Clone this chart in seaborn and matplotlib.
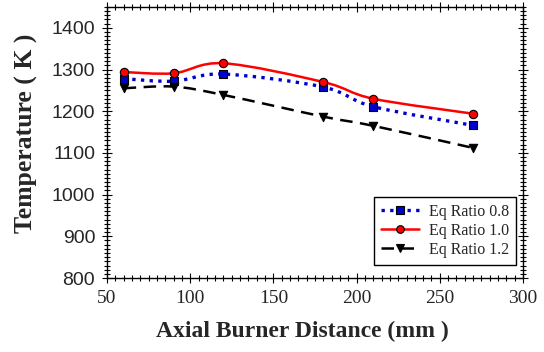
import numpy as np
import pandas as pd
import seaborn as sns
import matplotlib
matplotlib.use("Agg")
import matplotlib.pyplot as plt
from matplotlib.path import Path
from matplotlib.patches import PathPatch
from matplotlib.lines import Line2D
from matplotlib.ticker import MultipleLocator

# Axial positions (mm) and measured temperatures (K)
distance = [60, 90, 120, 180, 210, 270]
temp_eq08 = [1278, 1272, 1289, 1258, 1211, 1166]
temp_eq10 = [1294, 1291, 1315, 1270, 1230, 1194]
temp_eq12 = [1255, 1259, 1239, 1187, 1165, 1112]
series_labels = ["Eq Ratio 0.8", "Eq Ratio 1.0", "Eq Ratio 1.2"]

df = pd.DataFrame({
    "distance": distance * 3,
    "temp": temp_eq08 + temp_eq10 + temp_eq12,
    "series": [series_labels[0]] * 6 + [series_labels[1]] * 6 + [series_labels[2]] * 6,
})

sns.set_style("white")
plt.rcParams["font.family"] = ["Liberation Serif"]

styles = {
    series_labels[0]: dict(color="#0000CC", ls=(0, (1, 1.6)), lw=2.4, marker="s", mfc="#0000CC", ms=6),
    series_labels[1]: dict(color="#FF0000", ls="-", lw=1.8, marker="o", mfc="#FF0000", ms=6),
    series_labels[2]: dict(color="black", ls=(0, (5, 3)), lw=1.8, marker="v", mfc="black", ms=6),
}

fig = plt.figure(figsize=(5.44, 3.52), dpi=100)
ax = fig.add_axes([0.1967, 0.2102, 0.7647, 0.770])


def smooth_path(xs, ys):
    # Catmull-Rom style Bezier segments through the data points
    xs = np.asarray(xs, float)
    ys = np.asarray(ys, float)
    n = len(xs)
    verts = [(xs[0], ys[0])]
    codes = [Path.MOVETO]
    t = 1.0 / 6.0
    for i in range(n - 1):
        i0 = max(i - 1, 0)
        i3 = min(i + 2, n - 1)
        c1 = (xs[i] + (xs[i + 1] - xs[i0]) * t, ys[i] + (ys[i + 1] - ys[i0]) * t)
        c2 = (xs[i + 1] - (xs[i3] - xs[i]) * t, ys[i + 1] - (ys[i3] - ys[i]) * t)
        verts += [c1, c2, (xs[i + 1], ys[i + 1])]
        codes += [Path.CURVE4] * 3
    return Path(verts, codes)


handles = []
for name in series_labels:
    st = styles[name]
    sub = df[df["series"] == name]
    patch = PathPatch(smooth_path(sub["distance"], sub["temp"]), fill=False,
                      edgecolor=st["color"], linestyle=st["ls"], lw=st["lw"], zorder=2)
    ax.add_patch(patch)
    sns.scatterplot(data=sub, x="distance", y="temp", ax=ax, marker=st["marker"],
                    color=st["mfc"], edgecolor="black", linewidth=0.8, s=st["ms"] ** 2,
                    zorder=3, legend=False)
    handles.append(Line2D([], [], color=st["color"], ls=st["ls"], lw=st["lw"],
                          marker=st["marker"], mfc=st["mfc"], mec="black", mew=0.8,
                          ms=st["ms"] - 0.5))

ax.set_xlim(50, 300)
ax.set_ylim(800, 1450)
ax.xaxis.set_major_locator(MultipleLocator(50))
ax.xaxis.set_minor_locator(MultipleLocator(5))
ax.yaxis.set_major_locator(MultipleLocator(100))
ax.yaxis.set_minor_locator(MultipleLocator(10))
ax.set_yticks([800, 900, 1000, 1100, 1200, 1300, 1400])

ax.tick_params(which="both", direction="inout", top=True, right=True,
               bottom=True, left=True, color="black", width=0.8)
ax.tick_params(which="major", length=7)
ax.tick_params(which="minor", length=4)
ax.tick_params(axis="x", labelsize=14, pad=5)
ax.tick_params(axis="y", labelsize=14, pad=5)
for lbl in ax.get_yticklabels():
    lbl.set_family("Liberation Sans")

for sp in ax.spines.values():
    sp.set_color("black")
    sp.set_linewidth(1.0)

ax.set_xlabel("Axial Burner Distance (mm )", fontsize=17, fontweight="bold")
ax.set_ylabel("Temperature ( K )", fontsize=18.5, fontweight="bold")
ax.xaxis.set_label_coords(0.469, -0.158)
ax.yaxis.set_label_coords(-0.165, 0.535)

leg = ax.legend(handles, series_labels, loc="lower right", fontsize=11.5,
                frameon=True, fancybox=False, edgecolor="black", framealpha=1,
                handlelength=2.4, handletextpad=0.6, borderpad=0.45,
                labelspacing=0.18, borderaxespad=0,
                bbox_to_anchor=(0.983, 0.048))
leg.get_frame().set_linewidth(1.0)

fig.savefig("out.png", dpi=100)
